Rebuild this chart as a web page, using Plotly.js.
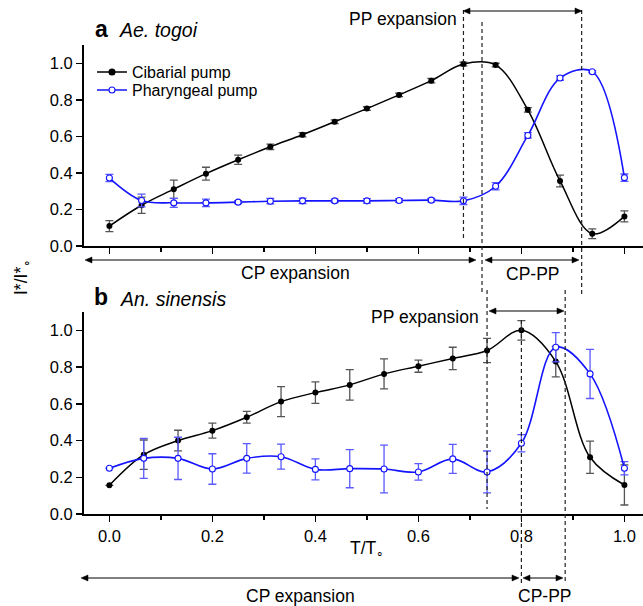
<!DOCTYPE html>
<html>
<head>
<meta charset="utf-8">
<script src="https://cdn.plot.ly/plotly-3.0.1.min.js"></script>
<style>html,body{margin:0;padding:0;background:#fff;}#chart{width:643px;height:606px;}</style>
</head>
<body>
<div id="chart"></div>
<script>
// ---- data ----
const xTop = [0, 0.0625, 0.125, 0.1875, 0.25, 0.3125, 0.375, 0.4375, 0.5, 0.5625, 0.625, 0.6875, 0.75, 0.8125, 0.875, 0.9375, 1.0];
const cpTop = [0.109, 0.223, 0.311, 0.396, 0.472, 0.543, 0.609, 0.680, 0.752, 0.827, 0.905, 0.996, 0.990, 0.745, 0.356, 0.067, 0.162];
const cpTopErr = [0.03, 0.045, 0.05, 0.035, 0.025, 0.015, 0.012, 0.01, 0.01, 0.01, 0.012, 0.01, 0.01, 0.012, 0.032, 0.027, 0.03];
const ppTop = [0.372, 0.249, 0.236, 0.236, 0.240, 0.245, 0.247, 0.247, 0.247, 0.249, 0.251, 0.247, 0.327, 0.605, 0.919, 0.954, 0.374];
const ppTopErr = [0.02, 0.035, 0.025, 0.02, 0.008, 0.015, 0.015, 0.01, 0.012, 0.01, 0.01, 0.02, 0.02, 0.015, 0.012, 0.005, 0.02];

const xBot = [0, 0.0667, 0.1333, 0.2, 0.2667, 0.3333, 0.4, 0.4667, 0.5333, 0.6, 0.6667, 0.7333, 0.8, 0.8667, 0.9333, 1.0];
const cpBot = [0.156, 0.323, 0.400, 0.454, 0.527, 0.612, 0.661, 0.703, 0.763, 0.805, 0.847, 0.890, 1.000, 0.830, 0.309, 0.158];
const cpBotErr = [0, 0.08, 0.056, 0.041, 0.032, 0.082, 0.059, 0.083, 0.082, 0.033, 0.061, 0.066, 0.053, 0.083, 0.088, 0.109];
const ppBot = [0.249, 0.303, 0.303, 0.245, 0.303, 0.312, 0.243, 0.247, 0.245, 0.229, 0.300, 0.229, 0.385, 0.908, 0.763, 0.249];
const ppBotErr = [0, 0.109, 0.115, 0.083, 0.08, 0.068, 0.057, 0.104, 0.13, 0.045, 0.079, 0.114, 0.047, 0.08, 0.134, 0.036];

const seriesNames = ['Cibarial pump', 'Pharyngeal pump'];
const xTickVals = [0, 0.2, 0.4, 0.6, 0.8, 1.0];
const xMinorVals = [0.1, 0.3, 0.5, 0.7, 0.9];
const yTickVals = [0, 0.2, 0.4, 0.6, 0.8, 1.0];

// ---- styles ----
const BLACK = '#000000', BLUE = '#1414ff', BLUE_ERR = '#5a5aff', GRAY_ERR = '#555555';
const W = 643, H = 606, L = 84;
const px = x => (x - L) / (W - L);
const py = y => 1 - y / H;

function cpTrace(x, y, err, xa, ya) {
  return {x, y, xaxis: xa, yaxis: ya, type: 'scatter', mode: 'lines+markers', name: seriesNames[0],
    showlegend: false, line: {color: BLACK, width: 1.5, shape: 'spline', smoothing: 1},
    marker: {size: 6, color: BLACK},
    error_y: {type: 'data', array: err, visible: true, color: GRAY_ERR, thickness: 1.3, width: 4}};
}
function ppTrace(x, y, err, xa, ya) {
  return {x, y, xaxis: xa, yaxis: ya, type: 'scatter', mode: 'lines+markers', name: seriesNames[1],
    showlegend: false, line: {color: BLUE, width: 1.6, shape: 'spline', smoothing: 1},
    marker: {size: 6, color: '#ffffff', line: {color: BLUE, width: 1.1}},
    error_y: {type: 'data', array: err, visible: true, color: BLUE_ERR, thickness: 1.3, width: 4}};
}

const data = [
  cpTrace(xTop, cpTop, cpTopErr, 'x', 'y'),
  ppTrace(xTop, ppTop, ppTopErr, 'x', 'y'),
  cpTrace(xBot, cpBot, cpBotErr, 'x2', 'y2'),
  ppTrace(xBot, ppBot, ppBotErr, 'x2', 'y2')
];

function xAxis(anchor, labels) {
  return {domain: [0, 1], anchor, range: [-0.0493, 1.0361], showline: true, linewidth: 2, linecolor: BLACK,
    ticks: 'outside', ticklen: 6, tickwidth: 1.5, tickcolor: BLACK, tickvals: xTickVals, tickformat: '.1f',
    showticklabels: labels, showgrid: false, zeroline: false, tickfont: {size: 16.5},
    minor: {tickvals: xMinorVals, ticks: 'outside', ticklen: 3.5, tickwidth: 1.5, tickcolor: BLACK, showgrid: false}};
}
function yAxis(anchor, domain) {
  return {domain, anchor, range: [0, 1.1], showline: true, linewidth: 2, linecolor: BLACK,
    ticks: 'outside', ticklen: 6, tickwidth: 1.5, tickcolor: BLACK, tickvals: yTickVals, tickformat: '.1f',
    showgrid: false, zeroline: false, tickfont: {size: 16.5}};
}

function txt(text, x, y, opts) {
  return Object.assign({text, xref: 'paper', yref: 'paper', x: px(x), y: py(y), showarrow: false,
    xanchor: 'center', yanchor: 'middle', font: {size: 17.5, color: BLACK}}, opts || {});
}
// double-headed horizontal arrow, drawn as shapes (pixel positions)
function dblArrow(x1, x2, y) {
  const hl = 7, hw = 3;
  const p = (x, yy) => px(x) + ',' + py(yy);
  const st = {color: BLACK, width: 1.2};
  return [
    {type: 'line', xref: 'paper', yref: 'paper', x0: px(x1 + 3), x1: px(x2 - 3), y0: py(y), y1: py(y), line: st},
    {type: 'path', xref: 'paper', yref: 'paper', path: 'M' + p(x2, y) + 'L' + p(x2 - hl, y - hw) + 'L' + p(x2 - hl, y + hw) + 'Z',
      fillcolor: BLACK, line: {color: BLACK, width: 0.5}},
    {type: 'path', xref: 'paper', yref: 'paper', path: 'M' + p(x1, y) + 'L' + p(x1 + hl, y - hw) + 'L' + p(x1 + hl, y + hw) + 'Z',
      fillcolor: BLACK, line: {color: BLACK, width: 0.5}}
  ];
}
function vdash(xref, xv, y1, y2) {
  return {type: 'line', xref, yref: 'paper', x0: xv, x1: xv, y0: py(y1), y1: py(y2),
    line: {color: '#222', width: 1.2, dash: '4px,3px'}};
}
// manual legend entry (line + marker symbol)
function legendSym(y, color, fill) {
  return [
    {type: 'line', xref: 'paper', yref: 'paper', x0: px(97), x1: px(127), y0: py(y), y1: py(y), line: {color, width: 1.5}},
    {type: 'circle', xref: 'paper', yref: 'paper', xsizemode: 'pixel', ysizemode: 'pixel',
      xanchor: px(112), yanchor: py(y), x0: -3, x1: 3, y0: -3, y1: 3, fillcolor: fill, line: {color, width: 1.1}}
  ];
}

const layout = {
  width: W, height: H, margin: {l: L, r: 0, t: 0, b: 0},
  paper_bgcolor: '#fff', plot_bgcolor: '#fff',
  font: {family: '"Liberation Sans", Arial, sans-serif', size: 16, color: BLACK},
  showlegend: false,
  xaxis: xAxis('y', false),
  yaxis: yAxis('x', [py(246), py(45)]),
  xaxis2: xAxis('y2', true),
  yaxis2: yAxis('x2', [py(514), py(312)]),
  shapes: [
    vdash('x', 0.6875, 10, 241), vdash('x', 0.7235, 22, 293), vdash('x', 0.917, 10, 296),
    vdash('x2', 0.7333, 290, 509), vdash('x2', 0.8, 320, 586), vdash('x2', 0.885, 290, 582)
  ].concat(
    dblArrow(463, 582, 11), dblArrow(85, 476, 260), dblArrow(485, 579, 260),
    dblArrow(489, 564, 311), dblArrow(81, 519, 578), dblArrow(523, 563, 578),
    legendSym(72, BLACK, BLACK), legendSym(90, BLUE, '#ffffff')
  ),
  annotations: [
    txt(seriesNames[0], 130, 72, {xanchor: 'left', font: {size: 16, color: BLACK}}),
    txt(seriesNames[1], 130, 90, {xanchor: 'left', font: {size: 16, color: BLACK}}),
    txt('<b>a</b>', 101, 29, {font: {size: 23, color: BLACK}}),
    txt('<i>Ae. togoi</i>', 117, 30, {xanchor: 'left', font: {size: 19.5, color: BLACK}}),
    txt('<b>b</b>', 101, 297, {font: {size: 23, color: BLACK}}),
    txt('<i>An. sinensis</i>', 118, 299, {xanchor: 'left', font: {size: 19.5, color: BLACK}}),
    txt('PP expansion', 459, 19, {xanchor: 'right'}),
    txt('PP expansion', 481, 317, {xanchor: 'right'}),
    txt('CP expansion', 295, 273),
    txt('CP-PP', 532, 274),
    txt('CP expansion', 300, 596),
    txt('CP-PP', 544, 596),
    txt('T/T<sub>∘</sub>', 367, 549),
    txt('I*/I*<sub>∘</sub>', 22, 277, {textangle: -90})
  ]
};

Plotly.newPlot('chart', data, layout, {displayModeBar: false, staticPlot: true});
</script>
</body>
</html>
